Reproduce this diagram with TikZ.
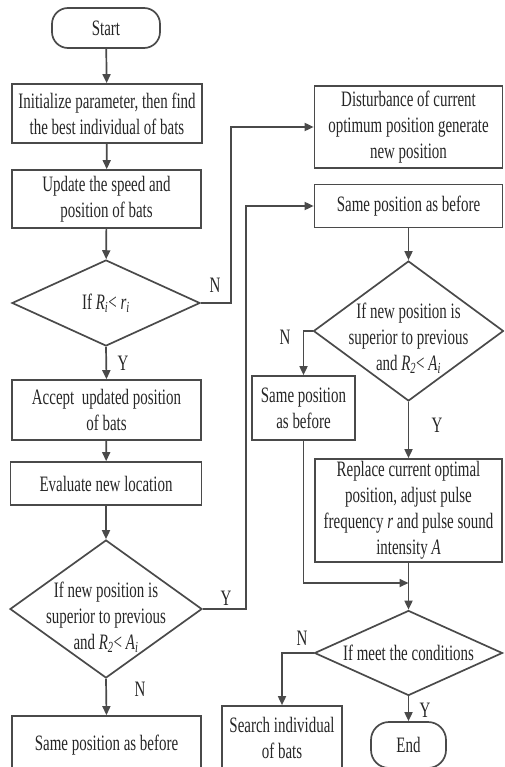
\documentclass[tikz,border=0pt]{standalone}
\usepackage{fontspec}
\setmainfont[FakeStretch=0.68]{Liberation Serif}
\usetikzlibrary{shapes.geometric,arrows.meta}
\definecolor{ln}{HTML}{4a4a4a}
\definecolor{tx}{HTML}{262626}
\newcommand{\sbi}[2]{\textit{#1}\textsubscript{\textit{#2}}}
\begin{document}
\begin{tikzpicture}[x=1pt,y=-1pt,
 every node/.style={font=\fontsize{22}{26}\selectfont, text=tx},
 box/.style={draw=ln, line width=1.7pt, rectangle, inner sep=0pt, align=center},
 term/.style={box, rounded corners=16pt},
 dia/.style={draw=ln, line width=1.7pt, diamond, inner sep=0pt},
 conn/.style={draw=ln, line width=1.7pt, -{Triangle[length=9pt,width=8pt]}},
 lab/.style={inner sep=0pt}]
\useasboundingbox (0,0) rectangle (504,767);
\clip (0,0) rectangle (504,767);
% left column
\node[term, minimum width=108pt, minimum height=40pt] (start) at (106,28) {Start};
\node[box, minimum width=190pt, minimum height=59pt] (init) at (107,113.5) {Initialize parameter, then find\\the best individual of bats};
\node[box, minimum width=189pt, minimum height=58pt] (upd) at (106.5,199) {Update the speed and\\position of bats};
\node[dia, minimum width=188pt, minimum height=86pt,
  label={[align=center]center:{If \sbi{R}{i}< \sbi{r}{i}}}] (d1) at (106,303) {};
\node[box, minimum width=189pt, minimum height=60pt] (acc) at (106.5,410) {Accept\ \ updated position\\of bats};
\node[box, minimum width=191pt, minimum height=43pt] (eval) at (106,483.5) {Evaluate new location};
\node[dia, minimum width=192pt, minimum height=138pt,
  label={[align=center,yshift=-8pt]center:{If new position is\\superior to previous\\and \sbi{R}{2}< \sbi{A}{i}}}] (d2) at (106,609) {};
\node[box, minimum width=189pt, minimum height=59pt] (same1) at (106.5,745.5) {Same position as before};
% right column
\node[box, minimum width=188pt, minimum height=82pt] (dist) at (408.5,127) {Disturbance of current\\optimum position generate\\new position};
\node[box, minimum width=188pt, minimum height=43pt] (same2) at (408.5,206) {Same position as before};
\node[dia, minimum width=190pt, minimum height=140pt,
  label={[align=center,yshift=-7pt]center:{If new position is\\superior to previous\\and \sbi{R}{2}< \sbi{A}{i}}}] (d3) at (408.5,331) {};
\node[box, minimum width=103pt, minimum height=64pt] (small) at (303.5,408) {Same position\\as before};
\node[box, minimum width=187pt, minimum height=103pt] (repl) at (408.5,510.5) {Replace current optimal\\position, adjust pulse\\frequency \textit{r} and pulse sound\\intensity \textit{A}};
\coordinate (m) at (408.5,583);
\node[dia, minimum width=188pt, minimum height=85pt,
  label={[align=center]center:{If meet the conditions}}] (d4) at (408.5,653) {};
\node[box, minimum width=120pt, minimum height=64pt] (search) at (282,738) {Search individual\\of bats};
\node[term, minimum width=75pt, minimum height=46pt, rounded corners=18pt] (end) at (408.5,745) {End};
% connectors
\draw[conn] (start) -- (init);
\draw[conn] (init) -- (upd);
\draw[conn] (upd) -- (d1);
\draw[conn] (d1.east) -- ++(30,0) |- (dist.west);
\draw[conn] (d1.south) -- (acc.north);
\draw[conn] (acc) -- (eval);
\draw[conn] (eval.south) -- (d2.north);
\draw[conn] (d2.east) -- ++(43,0) |- (same2.west);
\draw[conn] (d2.south) -- (same1.north);
\draw[conn] (same2.south) -- (d3.north);
\draw[conn] (d3.west) -| (small.north);
\draw[conn] (d3.south) -- (repl.north);
\draw[conn] (small.south) |- (m);
\draw[conn] (repl.south) -- (d4.north);
\draw[conn] (d4.west) -| (search.north);
\draw[conn] (d4.south) -- (end.north);
% labels
\node[lab] (n1) at (215,285) {N};
\node[lab] (y1) at (123,363) {Y};
\node[lab] (y2) at (226,598) {Y};
\node[lab] (n2) at (140,689) {N};
\node[lab] (n3) at (285,337) {N};
\node[lab] (y3) at (437,425) {Y};
\node[lab] (n4) at (302,638) {N};
\node[lab] (y4) at (425,710) {Y};
\end{tikzpicture}
\end{document}
